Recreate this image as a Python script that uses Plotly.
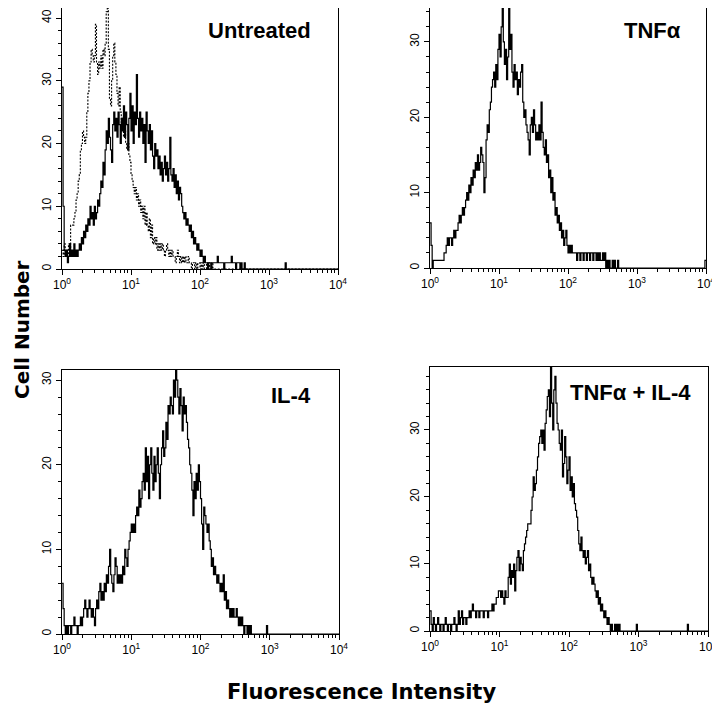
import plotly.graph_objects as go

# ---------------- data (counts per channel, 256 channels over 4 decades) ----------------
untreated_control = [
    3, 2, 4, 2, 3, 2, 4, 3, 7, 7,
    7, 8, 9, 11, 12, 14, 15, 19, 20, 22,
    21, 20, 21, 25, 28, 30, 33, 35, 34, 33,
    34, 39, 33, 31, 33, 32, 34, 32, 35, 34,
    36, 41, 44, 35, 27, 26, 30, 34, 36, 33,
    31, 28, 26, 29, 25, 23, 24, 21, 22, 20,
    19, 20, 18, 17, 15, 14, 13, 12, 13, 11,
    12, 10, 11, 9, 10, 8, 10, 7, 9, 7,
    6, 8, 5, 7, 4, 5, 4, 5, 3, 4,
    3, 4, 3, 4, 3, 2, 3, 4, 3, 2,
    3, 2, 3, 2, 2, 1, 2, 3, 2, 1,
    2, 1, 2, 1, 2, 1, 1, 2, 1, 1,
    0, 1, 1, 0, 1, 0, 1, 1, 0, 1,
    0, 1, 0, 0, 1, 0, 1, 0, 0, 1,
]
untreated = [
    29, 10, 3, 2, 3, 1, 2, 4, 2, 3,
    2, 4, 2, 3, 2, 3, 4, 3, 5, 4,
    6, 5, 7, 6, 8, 7, 10, 8, 9, 7,
    10, 8, 9, 11, 10, 12, 14, 13, 17, 15,
    19, 22, 20, 24, 21, 19, 17, 23, 25, 22,
    24, 21, 25, 23, 20, 24, 22, 26, 21, 25,
    23, 19, 24, 28, 22, 26, 20, 25, 23, 31,
    24, 21, 25, 22, 24, 20, 23, 17, 25, 22,
    20, 23, 19, 22, 18, 16, 20, 18, 19, 16,
    18, 15, 17, 14, 16, 18, 15, 17, 14, 16,
    21, 15, 14, 16, 13, 15, 12, 14, 11, 13,
    12, 10, 9, 8, 9, 7, 8, 7, 6, 7,
    5, 6, 4, 5, 4, 3, 4, 3, 2, 3,
    2, 1, 2, 1, 1, 0, 1, 1, 0, 1,
    1, 1, 1, 1, 2, 1, 1, 1, 1, 1,
    0, 1, 1, 1, 1, 1, 1, 2, 1, 1,
    1, 0, 1, 1, 1, 0, 1, 0, 0, 1,
]
untreated_tail = [(207, 1)]

tnf = [
    6, 3, 0, 1, 1, 1, 1, 1, 1, 1,
    1, 1, 1, 2, 2, 3, 4, 3, 4, 4,
    3, 4, 5, 4, 5, 5, 6, 7, 6, 7,
    8, 7, 8, 9, 10, 9, 11, 10, 12, 11,
    13, 12, 14, 13, 15, 13, 14, 16, 15, 14,
    10, 12, 17, 19, 18, 21, 22, 24, 25, 26,
    24, 27, 25, 29, 31, 28, 32, 36, 30, 27,
    29, 25, 28, 36, 29, 31, 26, 24, 27, 25,
    26, 23, 25, 24, 26, 27, 22, 20, 21, 19,
    18, 17, 15, 19, 20, 18, 21, 19, 17, 18,
    17, 19, 17, 22, 18, 16, 15, 17, 14, 15,
    12, 13, 10, 12, 9, 10, 7, 8, 6, 7,
    5, 6, 4, 5, 3, 4, 5, 3, 2, 3,
    2, 3, 2, 2, 2, 2, 1, 2, 2, 1,
    2, 2, 1, 2, 2, 1, 2, 2, 1, 2,
    2, 1, 2, 2, 1, 2, 1, 2, 1, 1,
    2, 1, 2, 0, 1, 0, 1, 0, 0, 1,
    0, 1, 0, 0, 1,
]
tnf_tail = [(255, 1)]

il4 = [
    6, 3, 1, 0, 1, 0, 1, 1, 0, 1,
    1, 2, 1, 1, 0, 1, 1, 2, 1, 2,
    3, 4, 3, 2, 3, 4, 3, 2, 3, 2,
    1, 3, 4, 3, 5, 6, 4, 5, 4, 6,
    5, 7, 6, 8, 10, 7, 6, 5, 7, 9,
    8, 6, 7, 6, 7, 6, 8, 7, 10, 9,
    8, 10, 11, 12, 13, 12, 13, 12, 14, 15,
    14, 17, 15, 16, 18, 19, 17, 22, 18, 21,
    16, 20, 22, 19, 17, 21, 18, 20, 22, 19,
    16, 20, 22, 24, 21, 22, 25, 23, 27, 26,
    28, 27, 26, 30, 28, 32, 30, 28, 26, 29,
    27, 24, 28, 26, 27, 25, 23, 22, 20, 19,
    17, 14, 18, 16, 19, 17, 20, 18, 16, 13,
    10, 15, 14, 13, 12, 13, 11, 10, 8, 9,
    7, 8, 7, 6, 7, 6, 5, 6, 5, 7,
    4, 5, 3, 4, 3, 2, 3, 2, 3, 2,
    2, 3, 2, 1, 2, 1, 2, 1, 0, 1,
    1, 0, 1, 0, 1, 0,
]
il4_tail = [(189, 1)]

tnf_il4 = [
    3, 1, 0, 2, 1, 0, 1, 2, 1, 0,
    1, 1, 0, 1, 2, 1, 0, 1, 1, 0,
    1, 1, 2, 1, 0, 1, 3, 1, 2, 3,
    1, 2, 2, 1, 2, 2, 3, 2, 3, 4,
    3, 3, 2, 3, 3, 2, 3, 3, 3, 2,
    3, 3, 3, 2, 3, 3, 3, 4, 3, 4,
    4, 5, 5, 6, 6, 5, 6, 5, 4, 6,
    5, 5, 8, 10, 7, 9, 8, 10, 6, 9,
    11, 12, 9, 11, 10, 9, 12, 13, 14, 15,
    16, 16, 16, 18, 20, 23, 21, 22, 24, 26,
    28, 29, 30, 28, 30, 27, 31, 33, 35, 36,
    32, 42, 34, 30, 36, 38, 34, 31, 30, 28,
    27, 30, 23, 25, 29, 26, 22, 24, 26, 21,
    23, 20, 22, 19, 18, 17, 15, 13, 12, 14,
    12, 11, 12, 10, 11, 12, 9, 10, 8, 7,
    8, 7, 6, 5, 6, 4, 5, 3, 4, 3,
    2, 3, 2, 1, 2, 1, 0, 1, 0, 0,
    1, 0, 1, 0, 1,
]
tnf_il4_tail = [(190, 1), (237, 1)]

N_CHANNELS = 256
CHANNELS_PER_DECADE = 64

x_tick_vals = [1, 10, 100, 1000, 10000]
x_tick_text = ["10<sup>0</sup>", "10<sup>1</sup>", "10<sup>2</sup>", "10<sup>3</sup>", "10<sup>4</sup>"]
x_minor_vals = [m * d for d in (1, 10, 100, 1000) for m in range(2, 10)]

panel_titles = ["Untreated", "TNFα", "IL-4", "TNFα + IL-4"]
y_tops = [41.6, 34.5, 31.2, 39.4]
y_tick_vals = [[0, 10, 20, 30, 40], [0, 10, 20, 30], [0, 10, 20, 30], [0, 10, 20, 30]]


def full_counts(main, tail):
    c = list(main) + [0] * (N_CHANNELS - len(main))
    for ch, v in tail:
        c[ch] = v
    return c + [c[-1]]


ch_x = [10 ** (i / CHANNELS_PER_DECADE) for i in range(N_CHANNELS + 1)]

series = [
    (1, full_counts(untreated_control, []), "2px,1.5px", 1.1),
    (1, full_counts(untreated, untreated_tail), None, 1.2),
    (2, full_counts(tnf, tnf_tail), None, 1.2),
    (3, full_counts(il4, il4_tail), None, 1.2),
    (4, full_counts(tnf_il4, tnf_il4_tail), None, 1.2),
]

fig = go.Figure()
for p, counts, dash, w in series:
    suf = "" if p == 1 else str(p)
    line = dict(color="black", width=w, shape="hv")
    if dash:
        line["dash"] = dash
    fig.add_trace(go.Scatter(x=ch_x, y=counts, mode="lines", line=line,
                             xaxis="x" + suf, yaxis="y" + suf, showlegend=False,
                             hoverinfo="skip"))

# page has an 8px body margin: figure occupies window pixels 8..720 / 8..710
OFF = 8
W, H = 712, 702
# panel boxes in window pixels: (left, right, top, bottom)
boxes = [(62, 338, 5, 269), (430, 706, 5, 268), (62, 339, 370, 634), (430, 708, 367, 631)]
tick_font = dict(family="Liberation Sans Narrow, Arial Narrow, Liberation Sans, Arial, sans-serif",
                 size=12, color="black")


def px_x(x):
    return (x - OFF) / W


def px_y(y):
    return 1 - (y - OFF) / H


layout = dict(width=W, height=H, margin=dict(l=0, r=0, t=0, b=0, autoexpand=False),
              paper_bgcolor="white", plot_bgcolor="white", showlegend=False)
for i, (l, r, t, b) in enumerate(boxes):
    n = i + 1
    suf = "" if n == 1 else str(n)
    layout["xaxis" + suf] = dict(
        type="log", range=[0, 4], domain=[px_x(l), px_x(r)], anchor="y" + suf, automargin=False,
        showgrid=False, zeroline=False, showline=True, linecolor="black", linewidth=1,
        mirror=True, ticks="outside", ticklen=5, tickcolor="black", tickwidth=1,
        tickvals=x_tick_vals, ticktext=x_tick_text, tickfont=tick_font,
        minor=dict(tickvals=x_minor_vals, ticks="outside", ticklen=3, tickcolor="black", tickwidth=1),
        fixedrange=True,
    )
    layout["yaxis" + suf] = dict(
        range=[0, y_tops[i]], domain=[px_y(b), min(1.0, px_y(t))], anchor="x" + suf, automargin=False,
        showgrid=False, zeroline=False, showline=True, linecolor="black", linewidth=1,
        mirror=True, ticks="outside", ticklen=5, tickcolor="black", tickwidth=1,
        tickvals=y_tick_vals[i], tickangle=-90, tickfont=tick_font,
        minor=dict(dtick=2, ticks="outside", ticklen=3, tickcolor="black", tickwidth=1),
        fixedrange=True,
    )
fig.update_layout(**layout)

title_font = dict(family="Liberation Sans, Arial, sans-serif", size=22, color="black")
label_pos = [(313, 31), (683, 30), (313, 395), (693, 392)]
for (xr, yc), txt in zip(label_pos, panel_titles):
    fig.add_annotation(x=px_x(xr), y=px_y(yc), xref="paper", yref="paper", text="<b>" + txt + "</b>",
                       showarrow=False, xanchor="right", yanchor="middle", font=title_font)

axis_font = dict(family="DejaVu Sans, Liberation Sans, Arial, sans-serif", size=21, color="black")
fig.add_annotation(x=px_x(8), y=px_y(330), xref="paper", yref="paper", text="<b>Cell Number</b>",
                   showarrow=False, textangle=-90, xanchor="left", yanchor="middle",
                   font=dict(family="DejaVu Sans, Liberation Sans, Arial, sans-serif", size=20, color="black"))
fig.add_annotation(x=px_x(361), y=px_y(692), xref="paper", yref="paper",
                   text="<b>Fluorescence Intensity</b>",
                   showarrow=False, xanchor="center", yanchor="middle", font=axis_font)

fig.write_html("out.html")
